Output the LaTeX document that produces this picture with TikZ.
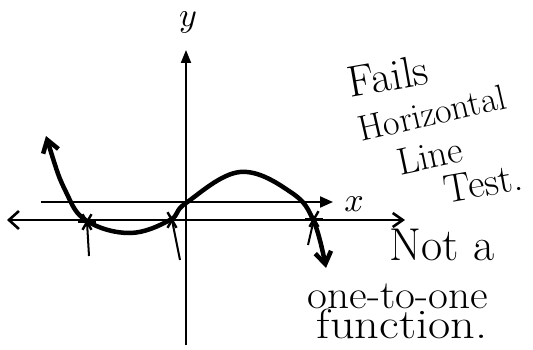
\documentclass[tikz,border=0pt]{standalone}
\usepackage{amsmath}
\usepackage{tikz}
\usetikzlibrary{arrows.meta}

\begin{document}
\begin{tikzpicture}[x=1pt,y=-1pt]
\tikzset{
  axis/.style={line width=2pt},
  curve/.style={line width=4.5pt, line cap=round},
  note/.style={inner sep=0pt, anchor=center},
}
\useasboundingbox (0,0) rectangle (533,350);

% axes
\draw[axis, -{Triangle[length=13pt,width=10pt]}] (186,345) -- (186,50);
\draw[axis, -{Triangle[length=13pt,width=11pt]}] (41,202) -- (333,202);
\node[inner sep=0pt, scale=3.4] (ylab) at (188,22) {$y$};
\node[inner sep=0pt, scale=3.4] (xlab) at (354,204) {$x$};

% horizontal test line
\draw[line width=2.6pt, {Straight Barb[length=10pt,width=18pt]}-{Straight Barb[length=10pt,width=14pt]}]
  (7,220) -- (405,220);

% the curve
\draw[curve, {Straight Barb[length=12pt,width=16pt]}-{Straight Barb[length=12pt,width=16pt]}]
  plot[smooth, tension=0.65] coordinates {(46,136) (66,192) (87,221) (130,233)
    (170,220) (186,203) (240,172) (292,193) (314,222) (326,268)};

% crossing points
\foreach \px/\py/\tx/\ty in {87/222/89/256, 172/220/180/260, 314/219/308/245} {
  \foreach \a in {0,60,120} {
    \draw[line width=2.4pt] ([shift={(\a:9)}]\px,\py) -- ([shift={(\a+180:9)}]\px,\py);
  }
  \draw[line width=2pt] (\px,\py) -- (\tx,\ty);
}

% notes
\node[note, rotate=10, font=\fontsize{44}{44}\selectfont] (fails) at (388,76) {Fails};
\node[note, rotate=13, font=\fontsize{36}{36}\selectfont] (horiz) at (432,113) {Horizontal};
\node[note, rotate=12, font=\fontsize{38}{38}\selectfont] (line) at (430,156) {Line};
\node[note, rotate=10, font=\fontsize{40}{40}\selectfont] (test) at (483,183) {Test.};
\node[note, font=\fontsize{46}{46}\selectfont] (nota) at (442,245) {Not a};
\node[note, xscale=1.08, font=\fontsize{40}{40}\selectfont] (onetoone) at (398,296) {one-to-one};
\node[note, xscale=1.15, font=\fontsize{42}{42}\selectfont] (func) at (402,324) {function.};

\end{tikzpicture}
\end{document}
